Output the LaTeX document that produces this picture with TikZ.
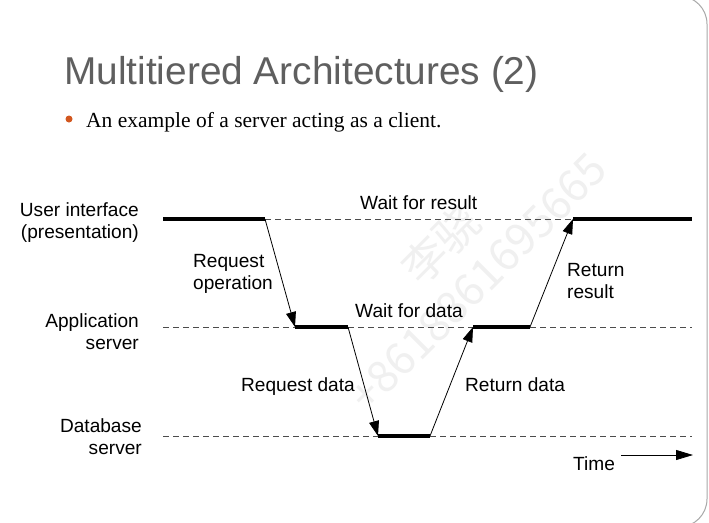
\documentclass[tikz,border=0pt]{standalone}
\usepackage{fontspec}
\setmainfont{Liberation Sans}
\newfontfamily\serifface{Liberation Serif}
\newfontfamily\cjkface{Noto Sans CJK SC}
\usetikzlibrary{arrows.meta}
\definecolor{titlegray}{HTML}{5F5F5F}
\definecolor{bulletorange}{HTML}{D2571F}
\definecolor{framegray}{HTML}{A8A8A8}

\begin{document}
\begin{tikzpicture}[x=1pt,y=-1pt,
  lbl/.style={inner sep=0pt, font=\fontsize{19.1}{22}\selectfont},
  busy/.style={line width=4pt},
  idle/.style={line width=0.9pt, dash pattern=on 6pt off 4pt, black!70},
  msg/.style={line width=0.8pt, -{Triangle[length=15pt,width=10pt]}},
]
\useasboundingbox (0,0) rectangle (709,522);
\fill[white] (0,0) rectangle (709,522);
% slide frame
\draw[framegray, line width=1pt, rounded corners=28pt] (-40,-4) rectangle (707,527);

% watermark
\node[rotate=45, text=black!6, font=\cjkface\fontsize{44}{52}\selectfont, align=center] (mark) at (458,262) {李骁\\+8618861695665};

% heading and bullet
\node[anchor=base west, inner sep=0pt, text=titlegray, font=\fontsize{38.8}{40}\selectfont] (title) at (64,84) {Multitiered Architectures (2)};
\node[circle, fill=bulletorange, minimum size=7pt, inner sep=0pt] (dot) at (69,119) {};
\node[anchor=base west, inner sep=0pt, font=\serifface\fontsize{21.5}{24}\selectfont] (bullet) at (86,127) {An example of a server acting as a client.};

% tier labels
\node[lbl, anchor=east, align=right] (ui) at (139,223) {User interface\\(presentation)};
\node[lbl, anchor=east, align=right] (app) at (139,332) {Application\\server};
\node[lbl, anchor=east, align=right] (db) at (142,437) {Database\\server};

% timeline points
\coordinate (u0) at (163,219); \coordinate (u1) at (265,219);
\coordinate (u2) at (573,219); \coordinate (u3) at (692,219);
\coordinate (a0) at (163,327); \coordinate (a1) at (295,327);
\coordinate (a2) at (348,327); \coordinate (a3) at (473,327);
\coordinate (a4) at (530,327); \coordinate (a5) at (692,327);
\coordinate (d0) at (163,436); \coordinate (d1) at (378,436);
\coordinate (d2) at (430,436); \coordinate (d3) at (692,436);

% user interface tier
\draw[busy] (u0) -- (u1);
\draw[idle] (u1) -- (u2);
\draw[busy] (u2) -- (u3);
% application tier
\draw[idle] (a0) -- (a1);
\draw[busy] (a1) -- (a2);
\draw[idle] (a2) -- (a3);
\draw[busy] (a3) -- (a4);
\draw[idle] (a4) -- (a5);
% database tier
\draw[idle] (d0) -- (d1);
\draw[busy] (d1) -- (d2);
\draw[idle] (d2) -- (d3);

% messages
\draw[msg] (u1) -- (a1);
\draw[msg] (a2) -- (d1);
\draw[msg] (d2) -- (a3);
\draw[msg] (a4) -- (u2);

% message labels
\node[lbl, anchor=west, align=left] (reqop) at (193,274) {Request\\operation};
\node[lbl, anchor=base west] (waitres) at (360,209) {Wait for result};
\node[lbl, anchor=base west] (waitdata) at (355,317) {Wait for data};
\node[lbl, anchor=base west] (reqdata) at (241,391) {Request data};
\node[lbl, anchor=base west] (retdata) at (465,391) {Return data};
\node[lbl, anchor=west, align=left] (retres) at (567,281) {Return\\result};

% time axis
\node[lbl, anchor=base west] (time) at (573,470) {Time};
\coordinate (t0) at (621,455); \coordinate (t1) at (693,455);
\draw[line width=0.8pt, -{Triangle[length=17pt,width=10pt]}] (t0) -- (t1);
\end{tikzpicture}
\end{document}
